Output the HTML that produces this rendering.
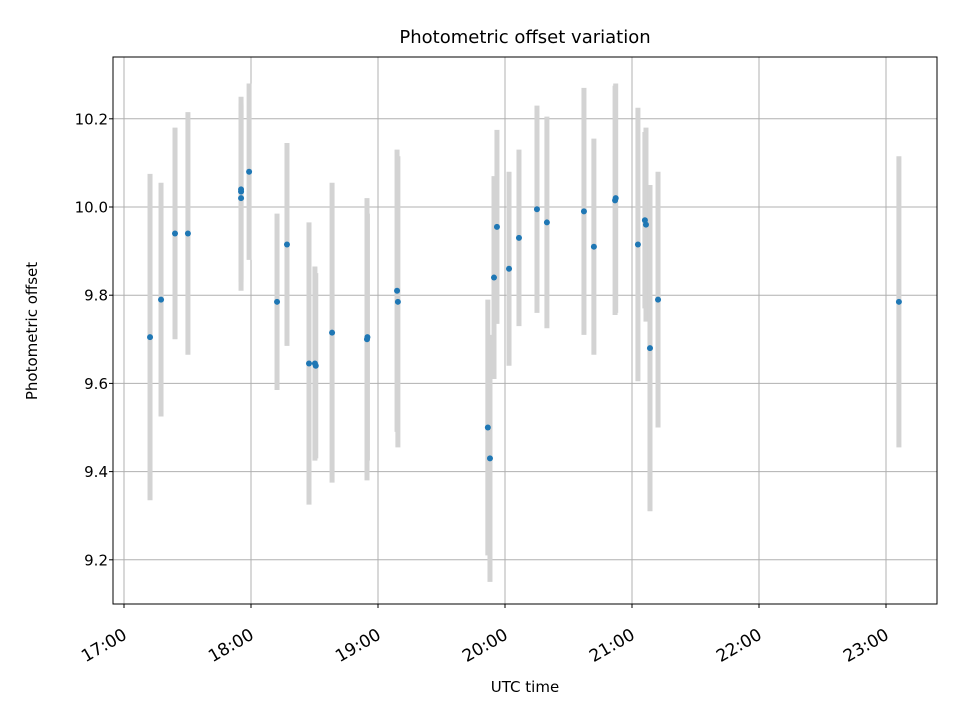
<!DOCTYPE html>
<html><head><meta charset="utf-8"><style>
body{margin:0;background:#fff;}
svg text{font-family:"DejaVu Sans","Liberation Sans",sans-serif;fill:#000;}
</style></head><body>
<svg id="c" width="960" height="720" xmlns="http://www.w3.org/2000/svg">
<rect width="960" height="720" fill="#fff"/>
<g id="grid"></g><g id="bars"></g><g id="pts"></g><g id="axes"></g>
</svg>
<script>
const minutes=[12.3,17.5,24.1,30.2,55.3,55.3,55.3,59.1,72.3,77.0,87.4,90.2,90.6,98.3,114.8,115.0,129.0,129.4,171.9,172.9,174.8,176.2,181.9,186.6,195.1,199.8,217.3,222.0,232.0,232.3,242.8,246.1,246.6,248.5,252.3,366.1];
const values=[9.705,9.79,9.94,9.94,10.02,10.035,10.04,10.08,9.785,9.915,9.645,9.645,9.64,9.715,9.70,9.705,9.81,9.785,9.50,9.43,9.84,9.955,9.86,9.93,9.995,9.965,9.99,9.91,10.015,10.02,9.915,9.97,9.96,9.68,9.79,9.785];
const errors=[0.37,0.265,0.24,0.275,0.21,0.2,0.21,0.2,0.2,0.23,0.32,0.22,0.21,0.34,0.32,0.28,0.32,0.33,0.29,0.28,0.23,0.22,0.22,0.2,0.235,0.24,0.28,0.245,0.26,0.26,0.31,0.2,0.22,0.37,0.29,0.33];
const xTickLabels=["17:00","18:00","19:00","20:00","21:00","22:00","23:00"];
const yTicks=[9.2,9.4,9.6,9.8,10.0,10.2];
const L=113,R=937,T=57,B=604;
const X=t=>124+t*127/60, Y=v=>207-(v-10)*441;
const NS="http://www.w3.org/2000/svg";
function mk(tag,attrs,parent){const e=document.createElementNS(NS,tag);for(const k in attrs)e.setAttribute(k,attrs[k]);document.getElementById(parent).appendChild(e);return e;}
xTickLabels.forEach((lab,i)=>{const x=X(i*60);
 const g=mk('line',{x1:x,x2:x,y1:T,y2:B,stroke:'#b0b0b0','stroke-width':1},'grid');
 
 
 const tk=mk('line',{x1:x,x2:x,y1:B,y2:B+4,stroke:'#000','stroke-width':1},'axes');
 
 
 const t=mk('text',{x:0,y:0,'font-size':17,'text-anchor':'end',transform:`translate(${x+4} ${B+34}) rotate(-30)`},'axes');
 t.textContent=lab;
 
 
});
yTicks.forEach(v=>{const y=Y(v);
 const g=mk('line',{x1:L,x2:R,y1:y,y2:y,stroke:'#b0b0b0','stroke-width':1},'grid');
 
 
 const tk=mk('line',{x1:L-4,x2:L,y1:y,y2:y,stroke:'#000','stroke-width':1},'axes');
 
 
 const t=mk('text',{x:L-5,y:y+5.5,'font-size':15,'text-anchor':'end'},'axes');
 t.textContent=v.toFixed(1);
 
 
});
minutes.forEach((m,i)=>{const x=X(m);
 const b=mk('line',{x1:x,x2:x,y1:Y(values[i]+errors[i]),y2:Y(values[i]-errors[i]),stroke:'#d3d3d3','stroke-width':5},'bars');
 
 
});
minutes.forEach((m,i)=>{
 const c=mk('circle',{cx:X(m),cy:Y(values[i]),r:3,fill:'#1f77b4'},'pts');
 
 
});
const fr=mk('rect',{x:L,y:T,width:R-L,height:B-T,fill:'none',stroke:'#000','stroke-width':1},'axes');


const tt=mk('text',{x:525,y:43,'font-size':18,'text-anchor':'middle'},'axes');
tt.textContent='Photometric offset variation';


const xl=mk('text',{x:525,y:692,'font-size':15,'text-anchor':'middle'},'axes');
xl.textContent='UTC time';


const yl=mk('text',{x:37,y:331,'font-size':15,'text-anchor':'middle',transform:'rotate(-90 37 331)'},'axes');
yl.textContent='Photometric offset';


</script>
</body></html>
